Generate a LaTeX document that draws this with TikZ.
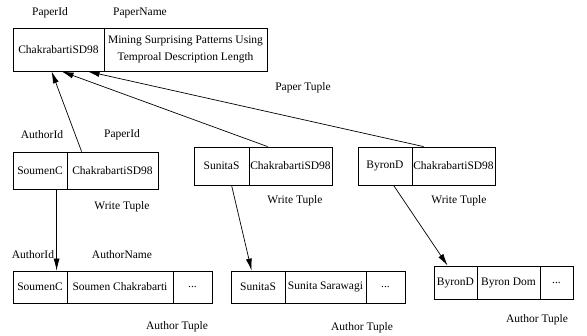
\documentclass[tikz,border=0pt]{standalone}
\usepackage{fontspec}
\setmainfont{Liberation Serif}
\usetikzlibrary{arrows.meta,calc}
\begin{document}
\begin{tikzpicture}[x=1pt,y=-1pt,
  cell/.style={draw=black,line width=0.8pt,inner sep=0pt,align=center,font=\fontsize{11.5}{17.5}\selectfont},
  lbl/.style={inner sep=0pt,font=\fontsize{11.5}{14}\selectfont},
  link/.style={draw=black,line width=0.7pt,-{Latex[length=12pt,width=6pt]}}]
\useasboundingbox (0,0) rectangle (587,336);
% Paper tuple
\node[cell,minimum width=91,minimum height=43] (p1) at (58.5,49.5) {ChakrabartiSD98};
\node[cell,minimum width=163,minimum height=43] (p2) at (185.5,49.5) {Mining Surprising Patterns Using\\Temproal Description Length};
\node[lbl] (lp1) at (50,13) {PaperId};
\node[lbl] (lp2) at (140,13) {PaperName};
\node[lbl] (lpt) at (303,88) {Paper Tuple};
% Write tuples
\node[cell,minimum width=54,minimum height=37] (w1a) at (40,170.5) {SoumenC};
\node[cell,minimum width=91,minimum height=37] (w1b) at (112.5,170.5) {ChakrabartiSD98};
\node[cell,minimum width=55,minimum height=38] (w2a) at (221.5,166) {SunitaS};
\node[cell,minimum width=83,minimum height=38] (w2b) at (290.5,166) {ChakrabartiSD98};
\node[cell,minimum width=54,minimum height=38] (w3a) at (385,166) {ByronD};
\node[cell,minimum width=83,minimum height=38] (w3b) at (453.5,166) {ChakrabartiSD98};
\node[lbl] (lw1) at (42,135) {AuthorId};
\node[lbl] (lw2) at (122,135) {PaperId};
\node[lbl] (lwt1) at (122,207) {Write Tuple};
\node[lbl] (lwt2) at (295,201) {Write Tuple};
\node[lbl] (lwt3) at (459,201) {Write Tuple};
% Author tuples
\node[cell,minimum width=54,minimum height=32] (a1a) at (40,287) {SoumenC};
\node[cell,minimum width=106,minimum height=32] (a1b) at (120,287) {Soumen Chakrabarti};
\node[cell,minimum width=39,minimum height=32] (a1c) at (192.5,287) {...};
\node[cell,minimum width=54,minimum height=32] (a2a) at (258,287) {SunitaS};
\node[cell,minimum width=81,minimum height=32] (a2b) at (325.5,287) {Sunita Sarawagi};
\node[cell,minimum width=39,minimum height=32] (a2c) at (385.5,287) {...};
\node[cell,minimum width=43,minimum height=33] (a3a) at (455.5,282.5) {ByronD};
\node[cell,minimum width=63,minimum height=33] (a3b) at (508.5,282.5) {Byron Dom};
\node[cell,minimum width=33,minimum height=33] (a3c) at (556.5,282.5) {...};
\node[lbl] (la1) at (33,255) {AuthorId};
\node[lbl] (la2) at (122,255) {AuthorName};
\node[lbl] (lat1) at (177,327) {Author Tuple};
\node[lbl] (lat2) at (362,328) {Author Tuple};
\node[lbl] (lat3) at (537,320) {Author Tuple};
% Links
\draw[link] ($(w1b.north west)+(15,0)$) -- ($(p1.south west)+(39,0)$);
\draw[link] ($(w2b.north west)+(19,0)$) -- ($(p1.south west)+(49,0)$);
\draw[link] ($(w3b.north west)+(12,0)$) -- ($(p1.south west)+(75,0)$);
\draw[link] ($(w1a.south west)+(44,0)$) -- ($(a1a.north west)+(44,0)$);
\draw[link] ($(w2a.south west)+(38,0)$) -- ($(a2a.north west)+(21,0)$);
\draw[link] ($(w3a.south west)+(36,0)$) -- ($(a3a.north west)+(14,0)$);
\end{tikzpicture}
\end{document}
